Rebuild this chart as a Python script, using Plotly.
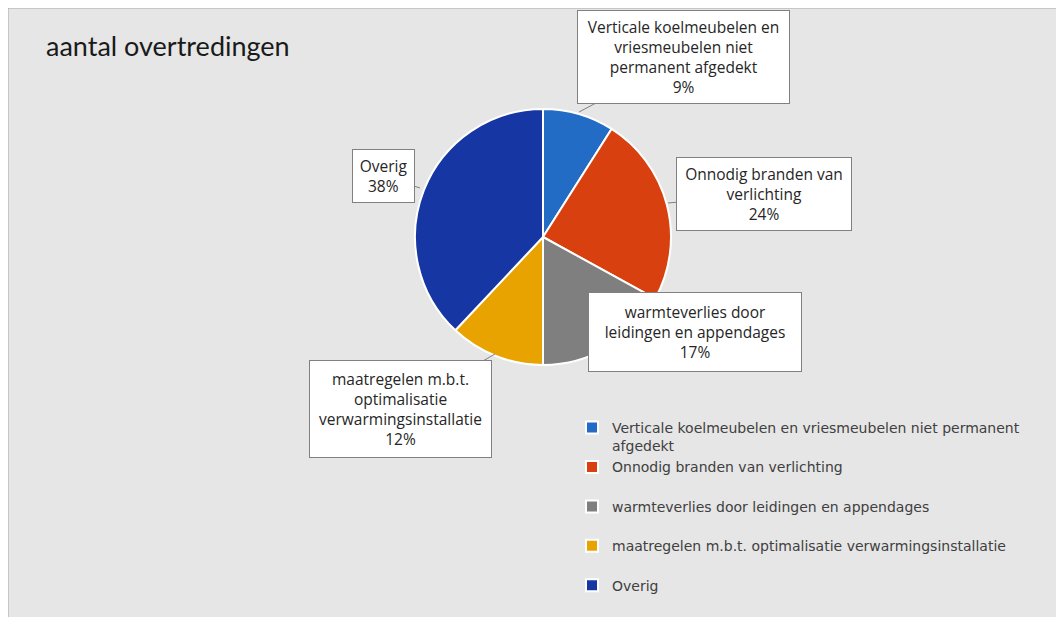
import plotly.graph_objects as go

W, H = 1064, 617
OFF = 8  # page body margin around the plot div

# slices, clockwise from 12 o'clock
labels = ['Verticale koelmeubelen en vriesmeubelen niet permanent afgedekt',
          'Onnodig branden van verlichting',
          'warmteverlies door leidingen en appendages',
          'maatregelen m.b.t. optimalisatie verwarmingsinstallatie',
          'Overig']
values = [9, 24, 17, 12, 38]
colors = ['#236CC6', '#D8410F', '#7F7F7F', '#E8A300', '#1636A3']

# legend text (with line breaks / spacing like the original)
legend_names = ['Verticale koelmeubelen en vriesmeubelen niet permanent<br>afgedekt',
                'Onnodig branden van verlichting<br> ',
                'warmteverlies door leidingen en appendages<br> ',
                'maatregelen m.b.t. optimalisatie verwarmingsinstallatie<br> ',
                'Overig']

# callout label text
callout_text = ['Verticale koelmeubelen en<br>vriesmeubelen niet<br>permanent afgedekt',
                'Onnodig branden van<br>verlichting',
                'warmteverlies door<br>leidingen en appendages',
                'maatregelen m.b.t.<br>optimalisatie<br>verwarmingsinstallatie',
                'Overig']


def fx(px):
    return (px - OFF) / W


def fy(py):
    return 1 - (py - OFF) / H


# pie placement in page pixels
cx, cy, r = 543, 237, 128

fig = go.Figure(go.Pie(
    labels=legend_names,
    values=values,
    sort=False,
    direction='clockwise',
    rotation=0,
    textinfo='none',
    hoverinfo='label+percent',
    marker=dict(colors=colors, line=dict(color='white', width=2)),
    domain=dict(x=[fx(cx - r), fx(cx + r)], y=[fy(cy + r), fy(cy - r)]),
))

# callout boxes: (box center x, y, width, height, pointer point x, y or None)
boxes = [
    (683, 57, 211, 92, 579, 112),
    (764, 194, 174, 72, 668, 203),
    (695, 332, 212, 78, None, None),
    (400, 409, 181, 96, 495, 354),
    (383, 176, 61, 52, 420, 188),
]

annotations = [dict(text='aantal overtredingen', x=fx(44), y=fy(45), xref='paper', yref='paper',
                    xanchor='left', yanchor='middle', showarrow=False,
                    font=dict(family='Lato, Open Sans, sans-serif', size=27, color='#1a1a1a'))]

for i, (bx, by, bw, bh, px, py) in enumerate(boxes):
    txt = f'{callout_text[i]}<br>{values[i]}%'
    a = dict(text=txt, width=bw, height=bh, bgcolor='white', bordercolor='#808080', borderwidth=1,
             borderpad=0, align='center', xref='paper', yref='paper',
             font=dict(family='Open Sans, sans-serif', size=15.5, color='#262626'))
    if px is None:
        a.update(x=fx(bx), y=fy(by), showarrow=False)
    else:
        a.update(x=fx(px), y=fy(py), ax=bx - px, ay=by - py, showarrow=True,
                 arrowhead=0, arrowwidth=1, arrowcolor='#808080')
    annotations.append(a)

fig.update_layout(
    width=W, height=H, autosize=False,
    margin=dict(l=0, r=0, t=0, b=0),
    paper_bgcolor='white',
    shapes=[dict(type='rect', xref='paper', yref='paper', x0=0, x1=1.02, y0=-0.02, y1=1,
                 fillcolor='#E6E6E6', line=dict(color='#A6A6A6', width=1), layer='below')],
    annotations=annotations,
    showlegend=True,
    legend=dict(x=fx(572), y=fy(412), xanchor='left', yanchor='top', bgcolor='rgba(0,0,0,0)',
                valign='top', itemsizing='constant', traceorder='normal',
                font=dict(family='DejaVu Sans, sans-serif', size=14, color='#404040')),
)

fig.write_html('out.html')
